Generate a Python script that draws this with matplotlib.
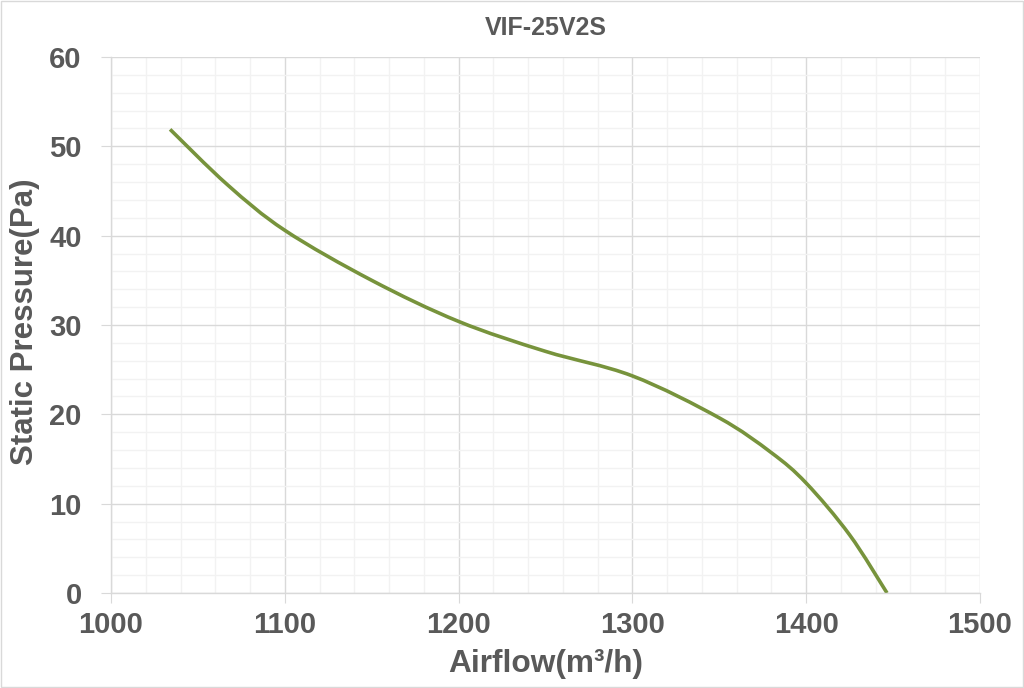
import matplotlib
matplotlib.use("Agg")
import matplotlib.pyplot as plt
from matplotlib.ticker import MultipleLocator
from matplotlib.patches import Rectangle, PathPatch
from matplotlib.path import Path

# fan curve
airflow = [1034, 1067, 1100, 1150, 1200, 1250, 1300, 1350, 1380, 1400, 1425, 1446.5]
pressure = [51.9, 45.7, 40.6, 35.0, 30.4, 27.05, 24.3, 19.6, 15.7, 12.3, 6.5, 0.0]

title = "VIF-25V2S"
xlabel = "Airflow(m³/h)"
ylabel = "Static Pressure(Pa)"

txt = "#595959"
plt.rcParams['font.family'] = ['Liberation Sans', 'DejaVu Sans']

fig = plt.figure(figsize=(10.24, 6.88), dpi=100)
ax = fig.add_axes([111/1024, 1 - 593/688, 869/1024, 536/688])

# smoothed line like excel: bezier segments through the points
pts = list(zip(airflow, pressure))
verts = [pts[0]]
codes = [Path.MOVETO]
n = len(pts)
for i in range(n - 1):
    p0 = pts[max(i - 1, 0)]
    p1 = pts[i]
    p2 = pts[i + 1]
    p3 = pts[min(i + 2, n - 1)]
    c1 = (p1[0] + (p2[0] - p0[0]) / 6, p1[1] + (p2[1] - p0[1]) / 6)
    c2 = (p2[0] - (p3[0] - p1[0]) / 6, p2[1] - (p3[1] - p1[1]) / 6)
    verts += [c1, c2, p2]
    codes += [Path.CURVE4] * 3
ax.add_patch(PathPatch(Path(verts, codes), fill=False, edgecolor="#77933C",
                       lw=2.6, capstyle="butt"))

ax.set_xlim(1000, 1500)
ax.set_ylim(0, 60)
ax.xaxis.set_major_locator(MultipleLocator(100))
ax.xaxis.set_minor_locator(MultipleLocator(20))
ax.yaxis.set_major_locator(MultipleLocator(10))
ax.yaxis.set_minor_locator(MultipleLocator(2))
ax.grid(which="major", color="#D9D9D9", lw=1)
ax.grid(which="minor", color="#F2F2F2", lw=1)
ax.set_axisbelow(True)

for s in ["top", "right"]:
    ax.spines[s].set_visible(False)
for s in ["left", "bottom"]:
    ax.spines[s].set_color("#D9D9D9")
    ax.spines[s].set_linewidth(1)

ax.tick_params(which="major", direction="out", length=7, color="#D9D9D9",
               labelsize=21, labelcolor=txt)
ax.tick_params(axis="x", which="major", pad=6)
ax.tick_params(axis="y", which="major", pad=14)
ax.tick_params(which="minor", length=0)
for lab in ax.get_xticklabels() + ax.get_yticklabels():
    lab.set_fontweight("bold")

fig.text(546/1024, 1 - 28/688, title, ha="center", va="center",
         fontsize=18, fontweight="bold", color=txt)
fig.text(546/1024, 1 - 664/688, xlabel, ha="center", va="center",
         fontsize=22.8, fontweight="bold", color=txt)
fig.text(25/1024, 1 - 322/688, ylabel, ha="center", va="center",
         rotation=90, fontsize=22.5, fontweight="bold", color=txt)

# light frame round the picture
fig.patches.append(Rectangle((0.001, 0.001), 0.998, 0.997, transform=fig.transFigure,
                             fill=False, edgecolor="#D9D9D9", lw=1))

fig.savefig("out.png", dpi=100)
